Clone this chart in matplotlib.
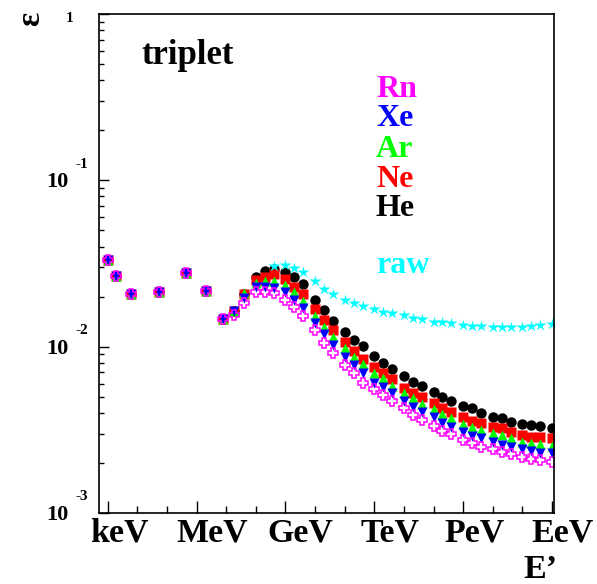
import numpy as np
import matplotlib.pyplot as plt
from matplotlib.ticker import FixedLocator, NullFormatter, LogLocator

plt.rcParams['font.family'] = ['Liberation Serif', 'DejaVu Serif']
plt.rcParams['font.weight'] = 'bold'

# DATOS (energia en eV, eficiencia)

energy = [1.0e3, 1.86e3, 5.9e3, 5.4e4, 4.5e5, 2.0e6, 7.9e6, 1.8e7, 4e7,
          1e8, 2e8, 4e8, 1e9, 2e9, 4e9, 1e10, 2e10, 4e10, 1e11, 2e11, 4e11,
          1e12, 2e12, 4e12, 1e13, 2e13, 4e13, 1e14, 2e14, 4e14, 1e15, 2e15,
          4e15, 1e16, 2e16, 4e16, 1e17, 2e17, 4e17, 1e18]

eff_he = [0.0332, 0.0266, 0.0208, 0.0214, 0.0276, 0.0215, 0.0147, 0.0164, 0.0207,
          0.0262, 0.0285, 0.0295, 0.0282, 0.0263, 0.0238, 0.0192, 0.0166, 0.0143,
          0.0122, 0.0109, 0.0101, 0.00878, 0.00800, 0.00733, 0.00668, 0.00615,
          0.00580, 0.00536, 0.00496, 0.00471, 0.00439, 0.00426, 0.00401, 0.00379,
          0.00371, 0.00354, 0.00341, 0.00338, 0.00333, 0.00323]

eff_ne = [0.0332, 0.0266, 0.0208, 0.0214, 0.0276, 0.0215, 0.0147, 0.0164, 0.0207,
          0.0253, 0.0262, 0.0273, 0.0254, 0.0229, 0.0206, 0.0168, 0.0145, 0.0126,
          0.0106, 0.00941, 0.00842, 0.00751, 0.00697, 0.00636, 0.00566, 0.00524,
          0.00496, 0.00456, 0.00426, 0.00406, 0.00376, 0.00358, 0.00349, 0.00327,
          0.00323, 0.00308, 0.00294, 0.00287, 0.00285, 0.00281]

eff_ar = [0.0332, 0.0266, 0.0208, 0.0214, 0.0276, 0.0215, 0.0147, 0.0164, 0.0211,
          0.0241, 0.0248, 0.0248, 0.0235, 0.0212, 0.0188, 0.0153, 0.0131, 0.0115,
          0.00977, 0.00870, 0.00783, 0.00691, 0.00645, 0.00580, 0.00524, 0.00489,
          0.00452, 0.00420, 0.00393, 0.00371, 0.00343, 0.00327, 0.00315, 0.00301,
          0.00294, 0.00281, 0.00268, 0.00264, 0.00260, 0.00253]

eff_xe = [0.0332, 0.0266, 0.0208, 0.0214, 0.0276, 0.0215, 0.0147, 0.0164, 0.0195,
          0.0228, 0.0228, 0.0225, 0.0212, 0.0192, 0.0170, 0.0138, 0.0119, 0.0102,
          0.00870, 0.00775, 0.00691, 0.00602, 0.00569, 0.00524, 0.00473, 0.00435,
          0.00406, 0.00376, 0.00349, 0.00330, 0.00308, 0.00290, 0.00281, 0.00266,
          0.00256, 0.00250, 0.00241, 0.00237, 0.00231, 0.00228]

eff_rn = [0.0332, 0.0266, 0.0208, 0.0214, 0.0276, 0.0215, 0.0147, 0.0155, 0.0182,
          0.0212, 0.0212, 0.0211, 0.0191, 0.0174, 0.0153, 0.0126, 0.0105, 0.00911,
          0.00775, 0.00691, 0.00602, 0.00556, 0.00512, 0.00473, 0.00426, 0.00388,
          0.00362, 0.00333, 0.00312, 0.00297, 0.00274, 0.00262, 0.00250, 0.00241,
          0.00233, 0.00226, 0.00218, 0.00211, 0.00208, 0.00203]

energy_raw = energy[11:]
eff_raw = [0.0307, 0.0310, 0.0299, 0.0282, 0.0248, 0.0222, 0.0206, 0.0191, 0.0182,
           0.0175, 0.0168, 0.0162, 0.0159, 0.0154, 0.0148, 0.0147, 0.0141, 0.0140,
           0.0138, 0.0135, 0.0133, 0.0133, 0.0131, 0.0132, 0.0132, 0.0131, 0.0133,
           0.0135, 0.0136]

x_major = [1e3, 1e6, 1e9, 1e12, 1e15, 1e18]
x_names = ['keV', 'MeV', 'GeV', 'TeV', 'PeV', 'EeV']
x_minor = [1e4, 1e5, 1e7, 1e8, 1e10, 1e11, 1e13, 1e14, 1e16, 1e17]

# FIGURA

W, H = 597, 584
fig = plt.figure(figsize=(W / 100, H / 100), dpi=100)
ax = fig.add_axes([99 / W, 1 - 513 / H, (554 - 99) / W, (513 - 14) / H])

ax.plot(energy, eff_he, 'o', color='black', ms=7.5, mec='none')
ax.plot(energy, eff_ne, 's', color='red', ms=7, mec='none')
ax.plot(energy, eff_ar, '^', color='#00ff00', ms=7.5, mec='none')
ax.plot(energy, eff_xe, 'v', color='blue', ms=7.5, mec='none')
ax.plot(energy, eff_rn, 'P', mfc='none', mec='#ff00ff', ms=7, mew=1.1)
ax.plot(energy_raw, eff_raw, '*', color='#00ffff', ms=9, mec='none')

ax.set_xscale('log')
ax.set_yscale('log')
ax.set_xlim(10**2.7, 10**18.07)
ax.set_ylim(1e-3, 1)

ax.xaxis.set_major_locator(FixedLocator(x_major))
ax.xaxis.set_minor_locator(FixedLocator(x_minor))
ax.yaxis.set_major_locator(FixedLocator([1e-3, 1e-2, 1e-1, 1]))
ax.yaxis.set_minor_locator(LogLocator(base=10, subs=np.arange(2, 10)))
for axis in (ax.xaxis, ax.yaxis):
    axis.set_major_formatter(NullFormatter())
    axis.set_minor_formatter(NullFormatter())
ax.tick_params(which='both', direction='in', top=False, right=False, width=1)
ax.tick_params(axis='x', which='major', length=9)
ax.tick_params(axis='x', which='minor', length=5)
ax.tick_params(axis='y', which='major', length=7.5)
ax.tick_params(axis='y', which='minor', length=3.8)
for s in ax.spines.values():
    s.set_linewidth(1.2)


def px(x, y):
    return x / W, 1 - y / H


# etiquetas del eje y estilo ROOT
fig.text(*px(69.5, 18), '1', fontsize=11, ha='center', va='center')
for ypix, ex in [(180, '-1'), (347, '-2'), (513, '-3')]:
    fig.text(*px(68, ypix + 2), '10', fontsize=16, ha='right', va='center')
    fig.text(*px(76, ypix - 16), ex, fontsize=11, ha='left', va='center')

fig.text(*px(31, 19), 'ε', fontsize=24, rotation=90, ha='center', va='center')

# etiquetas del eje x
for xc, name in zip([119, 212, 300, 390, 475, 563], x_names):
    fig.text(*px(xc, 541), name, fontsize=24.5, ha='center', va='baseline')
fig.text(*px(523, 578), 'E’', fontsize=24.5, ha='left', va='baseline')

fig.text(*px(141, 64), 'triplet', fontsize=25, ha='left', va='baseline')

labels = ['Rn', 'Xe', 'Ar', 'Ne', 'He', 'raw']
colors = ['#ff00ff', 'blue', '#00ff00', 'red', 'black', '#00ffff']
for yb, lab, col in zip([97, 126, 157, 187, 216, 273], labels, colors):
    fig.text(*px(376, yb), lab, fontsize=23, color=col, ha='left', va='baseline')

fig.savefig('out.png', dpi=100)
